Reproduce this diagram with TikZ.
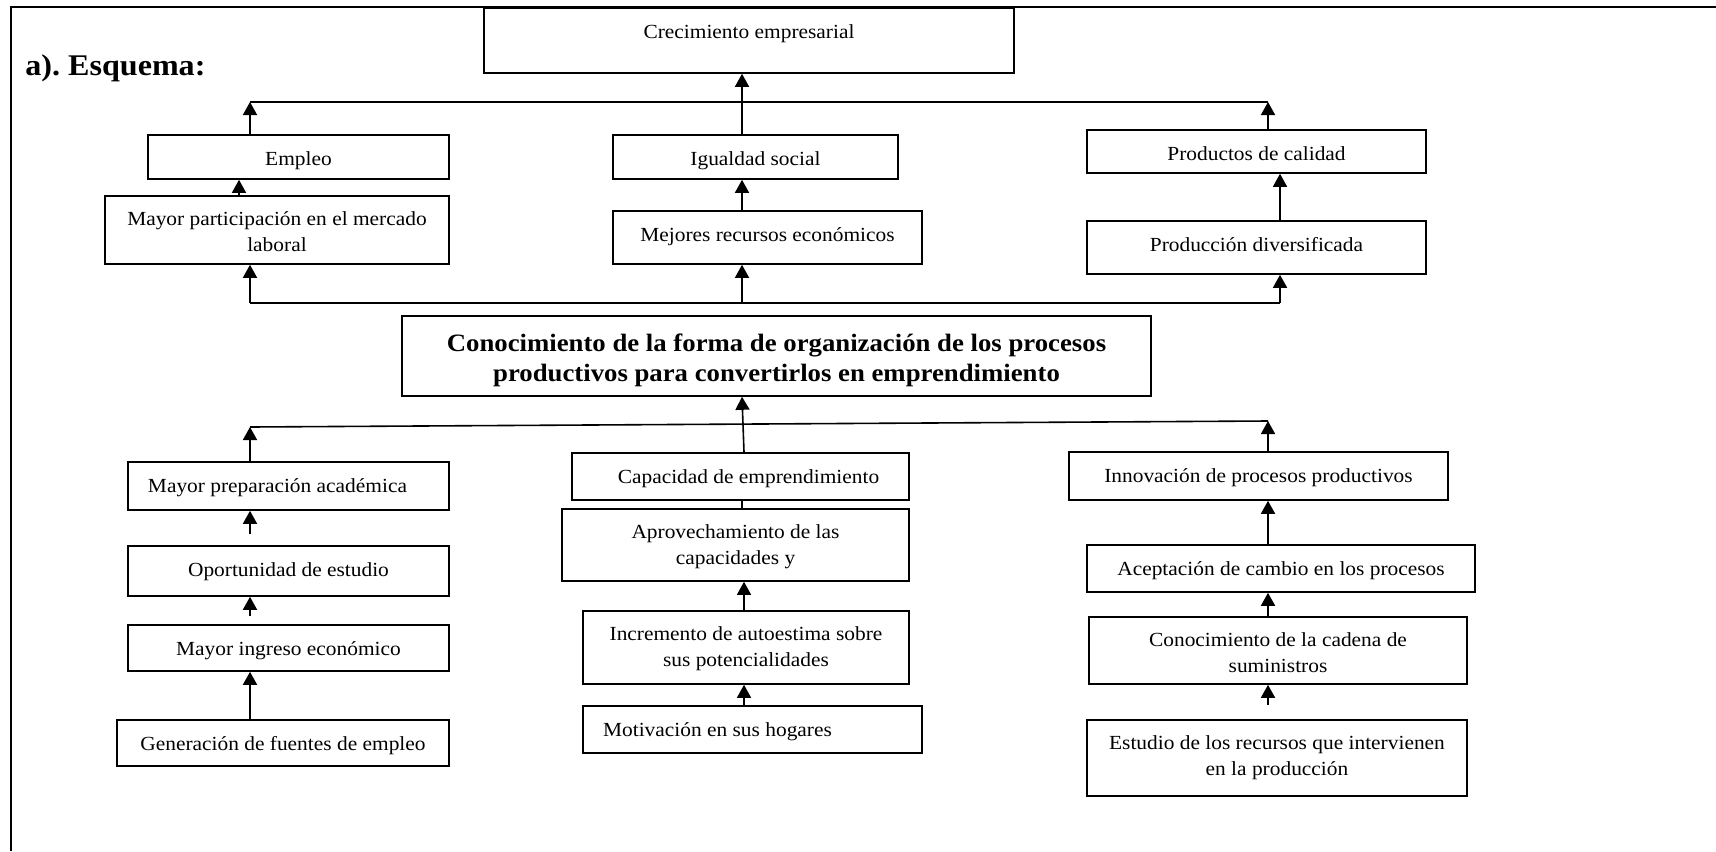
\documentclass[tikz,border=0pt]{standalone}
\usepackage{fontspec}
\setmainfont{Liberation Serif}[FakeStretch=1.07]
\usetikzlibrary{arrows.meta,calc}
\newcommand\twol[2]{\begin{tabular}{@{}c@{}}#1\\#2\end{tabular}}
\begin{document}
\begin{tikzpicture}[x=0.5pt,y=-0.5pt,
  box/.style={draw,line width=0.8pt,inner sep=0pt,font=\fontsize{10pt}{13pt}\selectfont},
  tb/.style 2 args={text height=#1,text depth=#2},
  arr/.style={line width=0.8pt,-{Triangle[width=7pt,length=6.5pt]}},
  ln/.style={line width=0.8pt},
  frame/.style={line width=1.3pt}]
\useasboundingbox (0,0) rectangle (1716,851);
\fill[white] (0,0) rectangle (1716,851);
\draw[frame] (11,851) -- (11,7) -- (1716,7);
\node[anchor=base west,inner sep=0pt,font=\fontsize{15pt}{17pt}\selectfont\bfseries] (esq) at (25,75) {a).\ Esquema:};

% top part
\node[box,minimum width=265pt,minimum height=32.5pt,tb={6.8pt}{9.2pt}] (crec) at (749,40.5) {Crecimiento empresarial};
\node[box,minimum width=150.5pt,minimum height=22pt,tb={8pt}{0pt}] (empleo) at (298.5,157) {Empleo};
\node[box,minimum width=172pt,minimum height=34pt,tb={18.8pt}{10.5pt}] (mpart) at (277,230) {\twol{Mayor participación en el mercado}{laboral}};
\node[box,minimum width=142.5pt,minimum height=22pt,tb={8pt}{0pt}] (igual) at (755.5,157) {Igualdad social};
\node[box,minimum width=154.5pt,minimum height=26.5pt,tb={7pt}{3.5pt}] (mejor) at (767.5,237.5) {Mejores recursos económicos};
\node[box,minimum width=169.5pt,minimum height=21.5pt,tb={8.5pt}{0pt}] (prodc) at (1256.5,151.5) {Productos de calidad};
\node[box,minimum width=169.5pt,minimum height=26.5pt,tb={7pt}{3.5pt}] (prodd) at (1256.5,247.5) {Producción diversificada};

\node[box,minimum width=374.5pt,minimum height=40pt,tb={22.85pt}{11.9pt},font=\fontsize{12.5pt}{15pt}\selectfont\bfseries] (title) at (776.5,356) {\twol{Conocimiento de la forma de organización de los procesos}{productivos para convertirlos en emprendimiento}};

% bottom part
\node[box,minimum width=160.5pt,minimum height=24pt,tb={7pt}{1pt}] (prep) at (288.5,486) {Mayor preparación académica\hspace*{11pt}};
\node[box,minimum width=160.5pt,minimum height=25pt,tb={7pt}{2pt}] (opor) at (288.5,571) {Oportunidad de estudio};
\node[box,minimum width=160.5pt,minimum height=23pt,tb={7pt}{0pt}] (ingr) at (288.5,648) {Mayor ingreso económico};
\node[box,minimum width=166pt,minimum height=23pt,tb={7pt}{0pt}] (gene) at (283,743) {Generación de fuentes de empleo};

\node[box,minimum width=168.5pt,minimum height=23.5pt,tb={7pt}{0.5pt}] (capa) at (740.5,476.5) {\hspace*{8pt}Capacidad de emprendimiento};
\node[box,minimum width=173.5pt,minimum height=36pt,tb={16.8pt}{10.5pt}] (apro) at (735.5,545) {\twol{Aprovechamiento de las}{capacidades y}};
\node[box,minimum width=163pt,minimum height=36.5pt,tb={16.3pt}{10.5pt}] (incr) at (746,647.5) {\twol{Incremento de autoestima sobre}{sus potencialidades}};
\node[box,minimum width=169.5pt,minimum height=23.5pt,tb={7pt}{0.5pt}] (moti) at (752.5,729.5) {Motivación en sus hogares\hspace*{35pt}};

\node[box,minimum width=189.5pt,minimum height=24pt,tb={7pt}{1pt}] (inno) at (1258.5,476) {Innovación de procesos productivos};
\node[box,minimum width=194pt,minimum height=23.5pt,tb={7pt}{0.5pt}] (acep) at (1281,568.5) {Aceptación de cambio en los procesos};
\node[box,minimum width=189pt,minimum height=33.5pt,tb={19.3pt}{10.5pt}] (cade) at (1278,650.5) {\twol{Conocimiento de la cadena de}{suministros}};
\node[box,minimum width=190pt,minimum height=38pt,tb={14.8pt}{10.5pt}] (estu) at (1277,758) {\twol{Estudio de los recursos que intervienen}{en la producción}};

% junction coordinates
\coordinate (t1) at (250,102);
\coordinate (t2) at (1268,102);
\coordinate (tm) at (742,102);
\coordinate (b1) at (250,303);
\coordinate (bm) at (742,303);
\coordinate (b2) at (1280,303);
\coordinate (l1) at (250,427);
\coordinate (l2) at (1268,421);
\coordinate (m744) at (744,0);

% top connectors
\draw[ln] (t1) -- (t2);
\draw[arr] (empleo.north -| t1) -- (t1);
\draw[arr] (prodc.north -| t2) -- (t2);
\draw[arr] (igual.north -| tm) -- (crec.south -| tm);
\draw[arr] ($(mpart.north)+(-38,0)$) -- ($(empleo.south)+(-59.5,0)$);
\draw[arr] (mejor.north -| bm) -- (igual.south -| bm);
\draw[arr] (prodd.north -| b2) -- (prodc.south -| b2);
\draw[ln] (b1) -- (b2);
\draw[arr] (b1) -- (mpart.south -| b1);
\draw[arr] (bm) -- (mejor.south -| bm);
\draw[arr] (b2) -- (prodd.south -| b2);

% bottom connectors
\draw[ln] (l1) -- (l2);
\draw[arr] ($(capa.north)+(3.5,0)$) -- ($(title.south)+(-34.5,0)$);
\draw[arr] (prep.north -| l1) -- (l1);
\draw[arr] (inno.north -| l2) -- (l2);
\draw[arr] ($(opor.north -| l1)+(0,-11)$) -- (prep.south -| l1);
\draw[arr] ($(ingr.north -| l1)+(0,-8)$) -- (opor.south -| l1);
\draw[arr] (gene.north -| l1) -- (ingr.south -| l1);
\draw[ln] (apro.north -| bm) -- (capa.south -| bm);
\draw[arr] (incr.north -| m744) -- (apro.south -| m744);
\draw[arr] (moti.north -| m744) -- (incr.south -| m744);
\draw[arr] (acep.north -| l2) -- (inno.south -| l2);
\draw[arr] (cade.north -| l2) -- (acep.south -| l2);
\draw[arr] ($(estu.north -| l2)+(0,-14)$) -- (cade.south -| l2);
\end{tikzpicture}
\end{document}
